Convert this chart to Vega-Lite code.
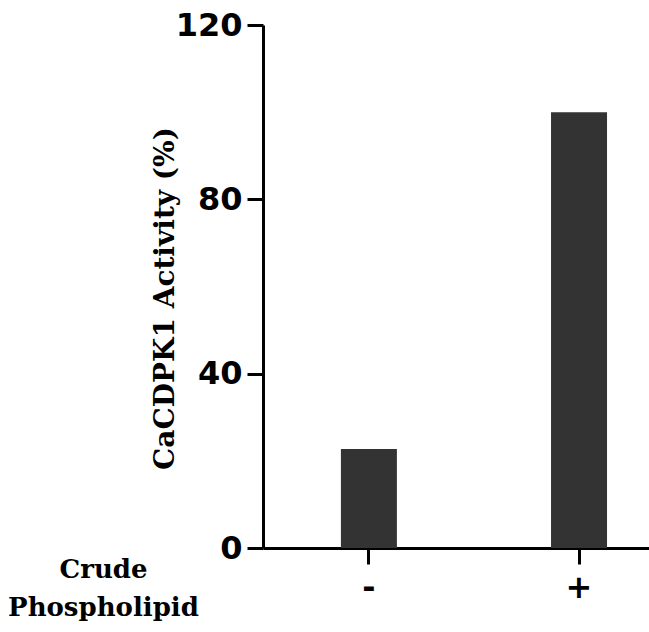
{
  "$schema": "https://vega.github.io/schema/vega-lite/v6.json",
  "autosize": "none",
  "width": 386,
  "height": 523,
  "padding": {"left": 263, "top": 25, "right": 0, "bottom": 84},
  "background": "white",
  "config": {"view": {"stroke": null}},
  "data": {"values": [
    {"phospholipid": "-", "activity": 22.7},
    {"phospholipid": "+", "activity": 100}
  ]},
  "mark": {"type": "bar", "color": "#333333", "width": 56},
  "encoding": {
    "x": {
      "field": "phospholipid", "type": "nominal", "sort": ["-", "+"],
      "scale": {"paddingInner": 0.733, "paddingOuter": 0.285, "align": 0.65},
      "axis": {
        "title": ["Crude", "Phospholipid"],
        "titleFont": "DejaVu Serif", "titleFontSize": 26, "titleFontWeight": "bold",
        "titleColor": "black", "titleX": -160, "titleY": 8, "titleAlign": "center",
        "titleBaseline": "top", "titleLineHeight": 38, "titleAngle": 0,
        "labelAngle": 0, "labelFont": "DejaVu Sans", "labelFontSize": 32, "labelFontWeight": "bold",
        "labelColor": "black", "labelPadding": 8,
        "domainColor": "black", "domainWidth": 3, "tickColor": "black", "tickWidth": 3, "tickSize": 16
      }
    },
    "y": {
      "field": "activity", "type": "quantitative",
      "scale": {"domain": [0, 120], "nice": false},
      "axis": {
        "values": [0, 40, 80, 120], "grid": false,
        "title": "CaCDPK1 Activity (%)",
        "titleFont": "DejaVu Serif", "titleFontSize": 28, "titleFontWeight": "bold",
        "titleColor": "black", "titlePadding": -4, "titleY": 273,
        "labelFont": "DejaVu Sans", "labelFontSize": 32, "labelFontWeight": "bold",
        "labelColor": "black", "labelPadding": 5,
        "domainColor": "black", "domainWidth": 3, "tickColor": "black", "tickWidth": 3, "tickSize": 16
      }
    }
  }
}
